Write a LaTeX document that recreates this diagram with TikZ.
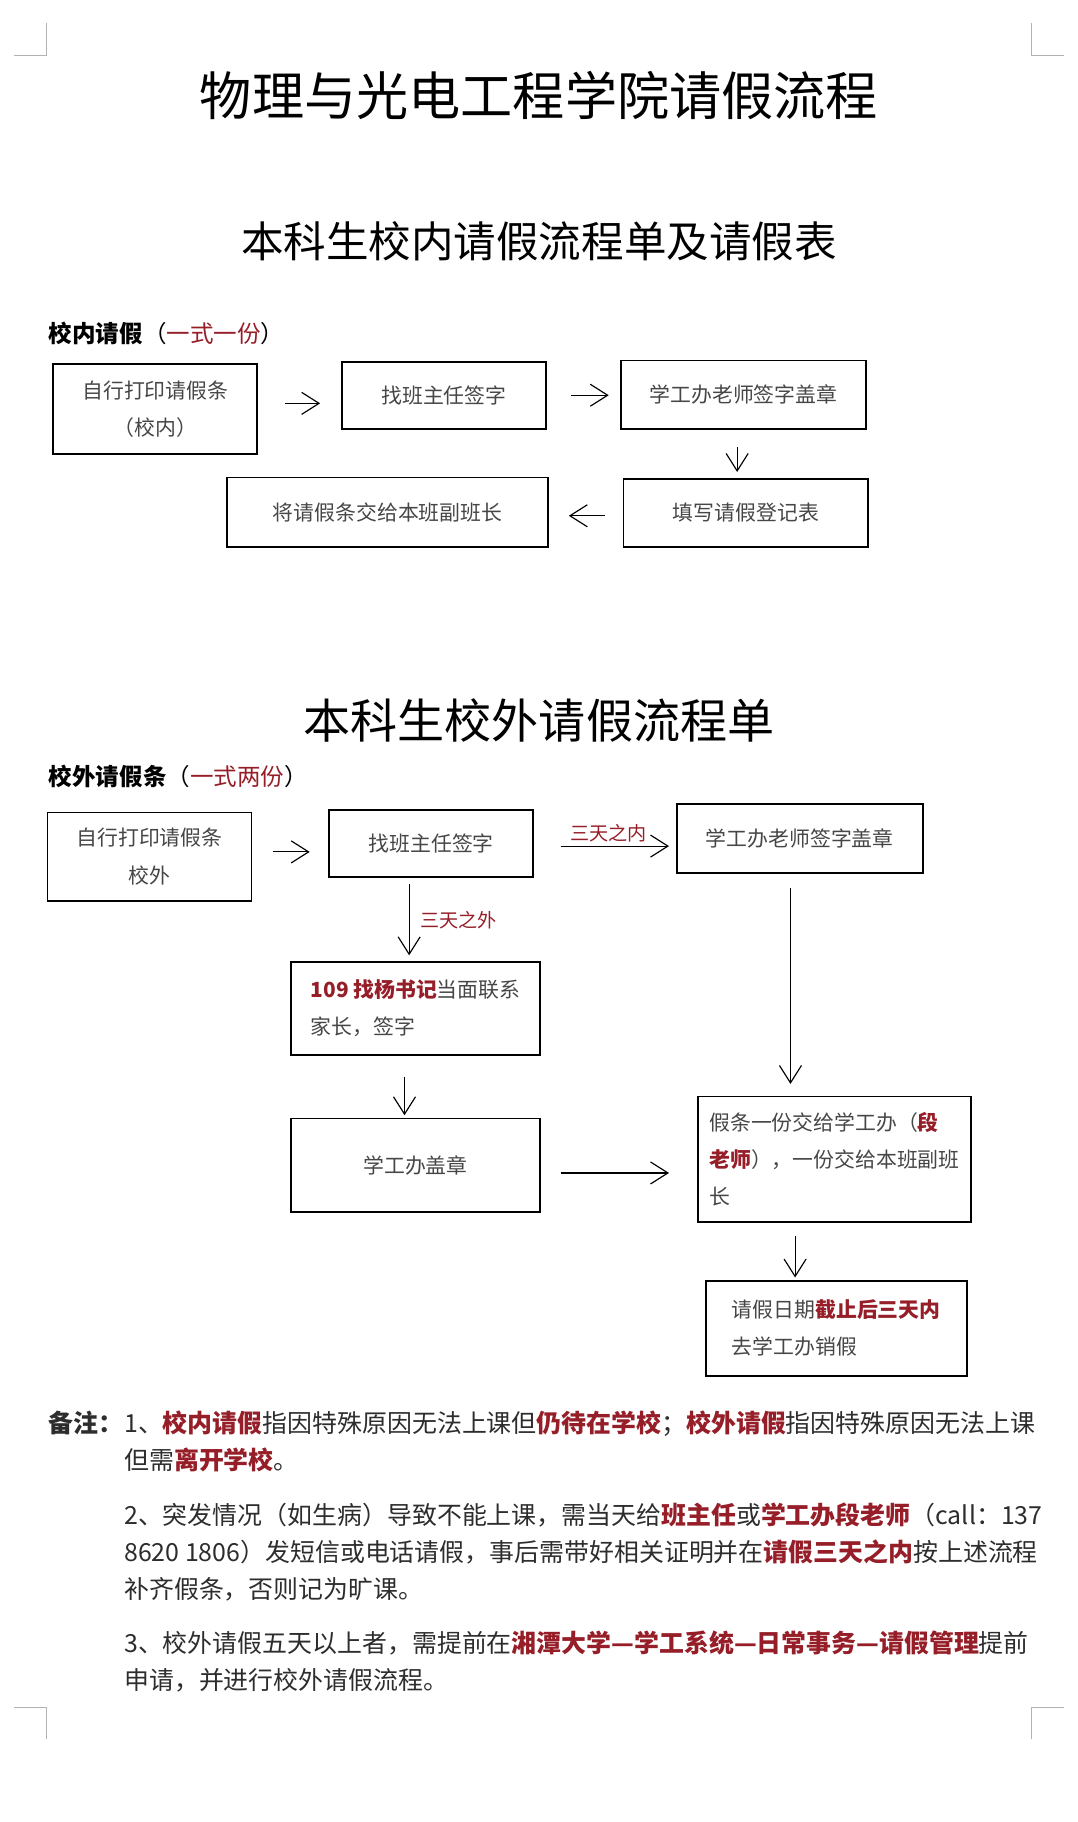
\documentclass[tikz,border=0pt]{standalone}
\usepackage{fontspec}
\setmainfont{Noto Sans CJK SC}
\usetikzlibrary{arrows.meta}
\definecolor{hong}{RGB}{150,30,40}
\definecolor{huise}{RGB}{70,70,70}
\definecolor{zhengwen}{RGB}{45,45,45}
\newcommand{\hb}[1]{\textcolor{hong}{\bfseries #1}}
\newcommand{\hr}[1]{\textcolor{hong}{#1}}
\begin{document}
\begin{tikzpicture}[x=1pt,y=-1pt,>={Straight Barb[length=15pt,width=19pt]},
    kuang/.style={draw,line width=1.6pt,inner sep=0pt,text=huise,
        font=\fontsize{18}{32}\selectfont,align=center},
    zuo/.style={kuang,align=left},
    jt/.style={->,line width=1pt},
    biaoqian/.style={text=hong,font=\fontsize{16.5}{18}\selectfont,inner sep=1pt},
    hang/.style={anchor=base west,inner sep=0pt,text=zhengwen,
        font=\fontsize{21.5}{24}\selectfont}]
    \useasboundingbox (0,0) rectangle (930,1572);
    % page corners
    \draw[gray!60,line width=1pt] (40,20) -- (40,48) -- (12,48);
    \draw[gray!60,line width=1pt] (890,20) -- (890,48) -- (918,48);
    \draw[gray!60,line width=1pt] (12,1473) -- (40,1473) -- (40,1500);
    \draw[gray!60,line width=1pt] (918,1473) -- (890,1473) -- (890,1500);
    % titles
    \node[font=\fontsize{45}{50}\selectfont] (biaoti) at (465,82)
        {物理与光电工程学院请假流程};
    \node[font=\fontsize{36.7}{40}\selectfont] (neibt) at (465,208)
        {本科生校内请假流程单及请假表};
    \node[anchor=west,inner sep=0pt,font=\fontsize{20.3}{24}\selectfont] (neibq)
        at (42,288) {\textbf{校内请假}（\hr{一式一份}）};
    % in-school leave
    \node[kuang,minimum width=176pt,minimum height=78pt] (a) at (134,353)
        {自行打印请假条\\（校内）};
    \node[kuang,minimum width=176pt,minimum height=58pt] (b) at (383,341)
        {找班主任签字};
    \node[kuang,minimum width=211pt,minimum height=59pt] (c) at (641.5,340.5)
        {学工办老师签字盖章};
    \node[kuang,minimum width=211pt,minimum height=59pt] (d) at (643.5,442.5)
        {填写请假登记表};
    \node[kuang,minimum width=277pt,minimum height=60pt] (e) at (334.5,442)
        {将请假条交给本班副班长};
    \draw[jt,shorten <=23pt,shorten >=18pt] ([yshift=5pt]a.east)
        -- ([yshift=5pt]a.east -| b.west);
    \draw[jt,shorten <=21pt,shorten >=10pt] (b.east) -- (b.east -| c.west);
    \draw[jt,shorten <=15pt,shorten >=5pt] ([xshift=-5.5pt]c.south)
        -- ([xshift=-5.5pt]c.south |- d.north);
    \draw[jt,shorten <=15pt,shorten >=17pt] ([yshift=-2.5pt]d.west)
        -- ([yshift=-2.5pt]d.west -| e.east);
    % off-campus leave
    \node[font=\fontsize{40.6}{44}\selectfont] (waibt) at (465,622)
        {本科生校外请假流程单};
    \node[anchor=west,inner sep=0pt,font=\fontsize{20.3}{24}\selectfont] (waibq)
        at (42,670) {\textbf{校外请假条}（\hr{一式两份}）};
    \node[kuang,minimum width=176pt,minimum height=76pt] (f) at (129,739)
        {自行打印请假条\\校外};
    \node[kuang,minimum width=176pt,minimum height=58pt] (g) at (372,728)
        {找班主任签字};
    \node[zuo,minimum width=212pt,minimum height=59pt] (h) at (690,723.5)
        {学工办老师签字盖章};
    \node[zuo,minimum width=215pt,minimum height=80pt] (i) at (358.5,870)
        {\hb{109 找杨书记}当面联系\\家长，签字};
    \node[kuang,minimum width=215pt,minimum height=81pt] (j) at (358.5,1005.5)
        {学工办盖章};
    \node[zuo,minimum width=236pt,minimum height=108pt] (k) at (720,1000)
        {假条一份交给学工办（\hb{段}\\\hb{老师}），一份交给本班副班\\长};
    \node[zuo,minimum width=225pt,minimum height=82pt] (l) at (721.5,1146)
        {请假日期\hb{截止后三天内}\\去学工办销假};
    \draw[jt,shorten <=18pt,shorten >=16pt] ([yshift=4pt]f.east)
        -- ([yshift=4pt]f.east -| g.west);
    \draw[jt,shorten <=23pt,shorten >=6pt] ([yshift=-2pt]g.east)
        -- ([yshift=-2pt]g.east -| h.west)
        node[biaoqian,midway,above=2pt,xshift=3pt] (nei) {三天之内};
    \draw[jt,shorten <=5pt,shorten >=5pt] ([xshift=-19pt]g.south)
        -- ([xshift=-19pt]g.south |- i.north)
        node[biaoqian,midway,right=8pt] (wai) {三天之外};
    \draw[jt,shorten <=18pt,shorten >=2pt] ([xshift=-9.5pt]i.south)
        -- ([xshift=-9.5pt]i.south |- j.north);
    \draw[jt,shorten <=17pt,shorten >=24pt] ([yshift=-6.5pt]j.east)
        -- ([yshift=-6.5pt]j.east -| k.west);
    \draw[jt,shorten <=12pt,shorten >=10pt] ([xshift=-8pt]h.south)
        -- ([xshift=-8pt]h.south |- k.north);
    \draw[jt,shorten <=12pt,shorten >=2pt] ([xshift=-34pt]k.south)
        -- ([xshift=-34pt]k.south |- l.north);
    % notes
    \node[hang] (bz) at (42,1236) {\textbf{备注：}};
    \node[hang] (n1) at (107,1236)
        {1、\hb{校内请假}指因特殊原因无法上课但\hb{仍待在学校}；\hb{校外请假}指因特殊原因无法上课};
    \node[hang] (n2) at (107,1268) {但需\hb{离开学校}。};
    \node[hang] (n3) at (107,1315)
        {2、突发情况（如生病）导致不能上课，需当天给\hb{班主任}或\hb{学工办段老师}（call：137};
    \node[hang] (n4) at (107,1347)
        {8620 1806）发短信或电话请假，事后需带好相关证明并在\hb{请假三天之内}按上述流程};
    \node[hang] (n5) at (107,1379) {补齐假条，否则记为旷课。};
    \node[hang] (n6) at (107,1426)
        {3、校外请假五天以上者，需提前在\hb{湘潭大学—学工系统—日常事务—请假管理}提前};
    \node[hang] (n7) at (107,1458) {申请，并进行校外请假流程。};
\end{tikzpicture}
\end{document}
